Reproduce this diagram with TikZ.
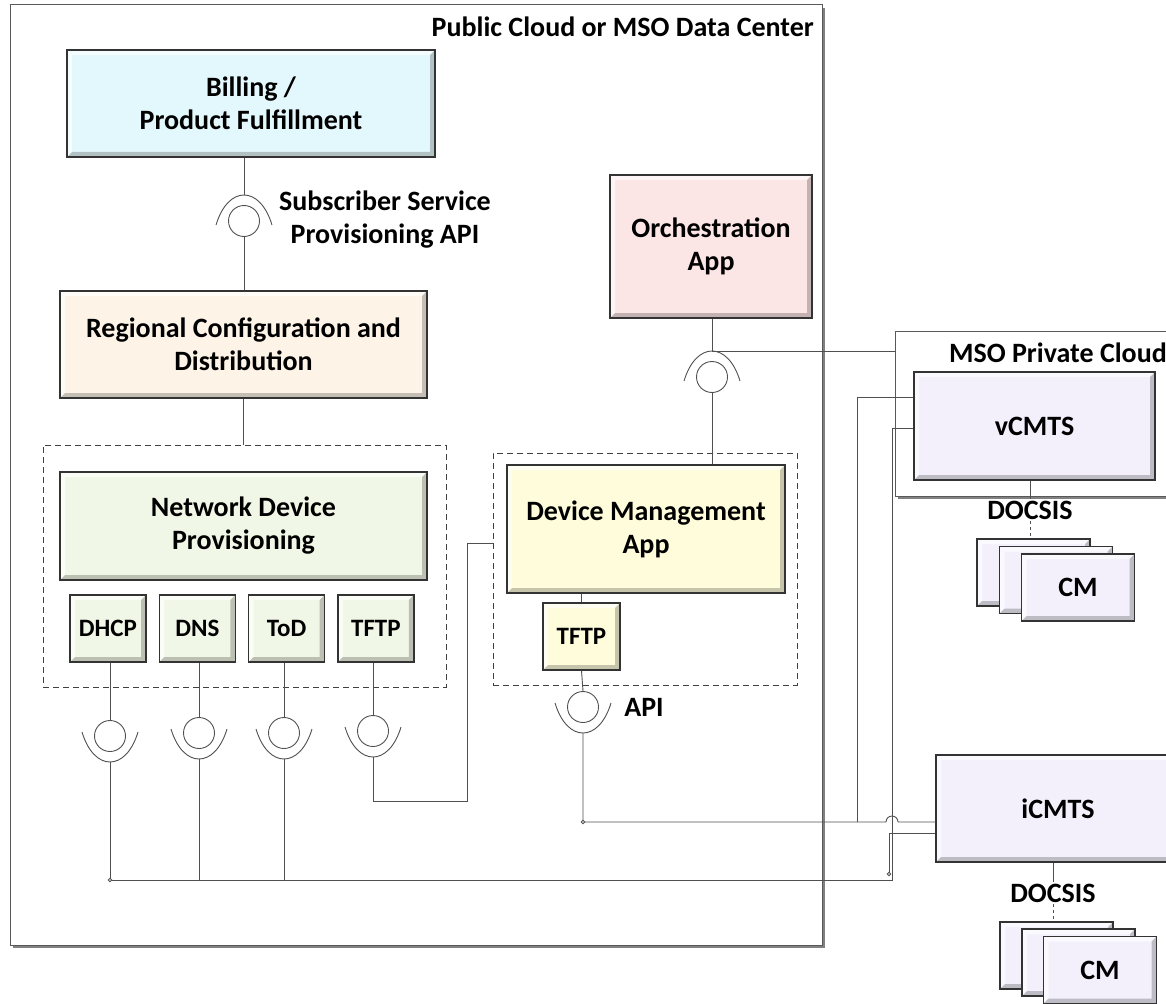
\documentclass[tikz,border=0pt]{standalone}
\usepackage{fontspec}
\setmainfont{Carlito}
\usepackage{tikz}
\usetikzlibrary{positioning}
\usetikzlibrary{shadows}

\definecolor{billcyan}{RGB}{227,248,252}
\definecolor{regpeach}{RGB}{253,244,231}
\definecolor{ndpgreen}{RGB}{241,247,230}
\definecolor{dmyellow}{RGB}{254,252,218}
\definecolor{orchpink}{RGB}{252,229,229}
\definecolor{cmtslilac}{RGB}{243,240,252}
\definecolor{wiregray}{RGB}{80,80,80}

\newcommand{\boxfont}{\fontsize{28}{33}\selectfont\bfseries}
\newcommand{\svcfont}{\fontsize{25}{29}\selectfont\bfseries}

\tikzset{
  bevel/.style={path picture={
      \fill[white,opacity=.65] (path picture bounding box.south west)
        -- (path picture bounding box.north west)
        -- (path picture bounding box.north east)
        -- ([shift={(-5pt,-5pt)}]path picture bounding box.north east)
        -- ([shift={(5pt,-5pt)}]path picture bounding box.north west)
        -- ([shift={(5pt,5pt)}]path picture bounding box.south west) -- cycle;
      \fill[black,opacity=.22] (path picture bounding box.south west)
        -- (path picture bounding box.south east)
        -- (path picture bounding box.north east)
        -- ([shift={(-5pt,-5pt)}]path picture bounding box.north east)
        -- ([shift={(-5pt,5pt)}]path picture bounding box.south east)
        -- ([shift={(5pt,5pt)}]path picture bounding box.south west) -- cycle;
  }},
  block/.style={draw=black!80, line width=1.3pt, inner sep=0pt, align=center, font=\boxfont, bevel},
  svc/.style={block, font=\svcfont, minimum width=76pt, minimum height=67pt},
  cmbox/.style={block, fill=cmtslilac, minimum width=113pt, minimum height=67pt},
  grp/.style={draw=black!75, line width=0.9pt, dash pattern=on 6pt off 4pt, inner sep=0pt},
  frame/.style={draw=black!65, line width=1pt, fill=white,
    drop shadow={shadow xshift=3pt, shadow yshift=-3pt, fill=black!70, opacity=.7}},
  cloudbox/.style={frame, inner sep=0pt},
  lbl/.style={font=\boxfont, inner sep=2pt},
  conn/.style={draw=wiregray, line width=0.9pt},
  ball/.style={circle, draw=wiregray, line width=0.9pt, minimum size=31pt, inner sep=0pt, fill=white},
  capup/.pic={
    \draw[conn] (-28pt,-4pt) .. controls (-16pt,36pt) and (16pt,36pt) .. (28pt,-4pt);
    \coordinate (-tip) at (0pt,26pt);
  },
  cupdown/.pic={
    \draw[conn] (-28pt,4pt) .. controls (-16pt,-36pt) and (16pt,-36pt) .. (28pt,4pt);
    \coordinate (-tip) at (0pt,-26pt);
  }
}

\begin{document}
\begin{tikzpicture}[x=1pt, y=-1pt]
    \useasboundingbox (0,0) rectangle (1166,1003);
    \clip (0,0) rectangle (1166,1003);
    \fill[white] (0,0) rectangle (1166,1003);

    \path[frame] (10,5) rectangle (822,945);
    \node[lbl, anchor=east] (pubttl) at (816,27) {Public Cloud or MSO Data Center};

    \node[cloudbox, minimum width=300pt, minimum height=165pt] (cloud) at (1045,413.5) {};
    \node[lbl, anchor=east] (cloudttl) at (1169,353) {MSO Private Cloud};

    \node[grp, minimum width=403pt, minimum height=242pt] (ndpgrp) at (244.5,566) {};
    \node[grp, minimum width=304pt, minimum height=232pt] (dmgrp) at (645,569) {};

    \node[block, fill=billcyan, minimum width=368pt, minimum height=107pt] (bill) at (251,103.5) {Billing /\\Product Fulfillment};
    \node[block, fill=regpeach, minimum width=367pt, minimum height=107pt] (reg) at (243.5,344.5) {Regional Configuration and\\Distribution};
    \node[block, fill=ndpgreen, minimum width=367pt, minimum height=108pt] (ndp) at (243.5,526) {Network Device\\Provisioning};
    \node[svc, fill=ndpgreen] (dhcp) at (108,628.5) {DHCP};
    \node[svc, fill=ndpgreen, right=12pt of dhcp] (dns) {DNS};
    \node[svc, fill=ndpgreen, right=12pt of dns] (tod) {ToD};
    \node[svc, fill=ndpgreen, right=12pt of tod] (tftp) {TFTP};

    \node[block, fill=orchpink, minimum width=202pt, minimum height=143pt] (orch) at (711,246.5) {Orchestration\\App};
    \node[block, fill=dmyellow, minimum width=278pt, minimum height=128pt] (dm) at (646,529) {Device Management\\App};
    \node[svc, fill=dmyellow, minimum width=77pt] (dmtftp) at (581.5,636.5) {TFTP};

    \node[block, fill=cmtslilac, minimum width=241pt, minimum height=108pt] (vcmts) at (1034.5,426) {vCMTS};
    \node[block, fill=cmtslilac, minimum width=244pt, minimum height=107pt] (icmts) at (1058,808.5) {iCMTS};

    \node[cmbox] (cmA1) at (1033.5,572.5) {};
    \node[cmbox] (cmA2) at (1056,580) {};
    \node[cmbox] (cmA3) at (1078,587.5) {CM};
    \node[cmbox] (cmB1) at (1056.5,955.5) {};
    \node[cmbox] (cmB2) at (1078.5,962.5) {};
    \node[cmbox] (cmB3) at (1100,970) {CM};

    \node[lbl, fill=white] (docsis1) at (1030,510) {DOCSIS};
    \node[lbl, fill=white] (docsis2) at (1053,893) {DOCSIS};
    \node[lbl, align=center] (ssapi) at (385,220) {Subscriber Service\\Provisioning API};
    \node[lbl] (apilbl) at (644,707) {API};

    \node[ball] (bb) at (244,221) {};
    \pic (sb) at (bb) {capup};
    \node[ball] (borch) at (712,377) {};
    \pic (sorch) at (borch) {capup};
    \foreach \n/\x/\y in {1/110/736, 2/199/733, 3/284/733, 4/373/731} {
        \node[ball] (bd\n) at (\x,\y) {};
        \pic (sd\n) at (bd\n) {cupdown};
    }
    \node[ball] (bapi) at (583,707) {};
    \pic (sapi) at (bapi) {cupdown};

    \draw[conn] (bill.south -| bb) -- (sb-tip);
    \draw[conn] (bb.south) -- (bb.south |- reg.north);
    \draw[conn] (reg.south) -- (reg.south |- ndpgrp.north);
    \foreach \b/\s in {bd1/dhcp, bd2/dns, bd3/tod, bd4/tftp}
        \draw[conn] (\b.north) -- (\b.north |- \s.south);

    \coordinate (busL) at (110,880);
    \coordinate (busR) at (892,880);
    \draw[conn] (sd1-tip) -- (busL) -- (busR) |- ([yshift=-2pt]vcmts.west);
    \draw[conn] (sd2-tip) -- (sd2-tip |- busL);
    \draw[conn] (sd3-tip) -- (sd3-tip |- busL);

    \coordinate (tj) at (467,801);
    \draw[conn] (sd4-tip) |- (tj) |- ([yshift=26pt]dmgrp.west);

    \draw[conn] (dmtftp.north) -- (dmtftp.north |- dm.south);
    \draw[conn] (dmtftp.south) -- (bapi.north);
    \coordinate (apiturn) at (583,822);
    \coordinate (jv) at (857,822);
    \coordinate (hop) at (886,822);
    \draw[conn] (sapi-tip) -- (apiturn) -- (hop) arc (180:0:6pt) -- (icmts.west |- apiturn);
    \draw[conn] (jv) |- ([yshift=29pt]vcmts.west);
    \coordinate (ic2) at (889,874);
    \draw[conn] ([yshift=-24.5pt]icmts.west) -| (ic2);
    \foreach \c in {busL, apiturn, ic2}
        \draw[conn, fill=white] (\c) circle (1.8pt);

    \draw[conn] (orch.south -| borch) -- (sorch-tip);
    \draw[conn] (sorch-tip) -- (sorch-tip -| cloud.west);
    \draw[conn] (borch.south) -- (borch.south |- dm.north);

    \draw[conn] (docsis1.north |- vcmts.south) -- (docsis1.north);
    \draw[conn, dashed] (docsis1.south) -- (docsis1.south |- cmA1.north);
    \draw[conn] (docsis2.north |- icmts.south) -- (docsis2.north);
    \draw[conn, dashed] (docsis2.south) -- (docsis2.south |- cmB1.north);
\end{tikzpicture}
\end{document}
